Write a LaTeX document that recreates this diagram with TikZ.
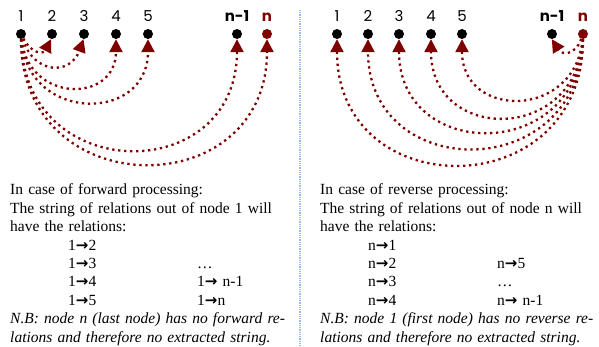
\documentclass[tikz,border=0pt]{standalone}
\usepackage{fontspec}
\setmainfont{Liberation Serif}
\newfontfamily\labelfont{Poppins}
\newfontfamily\symfont{DejaVu Sans}
\usetikzlibrary{arrows.meta}
\definecolor{mymaroon}{RGB}{128,0,0}
\definecolor{mysky}{RGB}{155,188,230}
\newcommand{\rel}{{\symfont\bfseries\fontsize{15}{15}\selectfont →}}
\tikzset{
  vertex/.style={circle, fill=black, inner sep=0pt, minimum size=10pt},
  lastvertex/.style={vertex, fill=mymaroon},
  relarrow/.style={-{Triangle[length=13pt, width=13pt]}, color=mymaroon,
    line width=2.3pt, dash pattern=on 2.3pt off 3.7pt},
  divider/.style={color=mysky, line width=1.8pt, dash pattern=on 1pt off 0.8pt},
  textblock/.style={anchor=base west, inner sep=0pt, align=left,
    font=\fontsize{15.5}{18.4}\selectfont}
}

\begin{document}
\begin{tikzpicture}[x=1pt, y=-1pt,
  every label/.style={font=\labelfont\fontsize{15}{15}\selectfont, inner sep=0pt},
  label distance=7pt]
  \useasboundingbox (0,0) rectangle (599,347);

  % forward processing
  \node[vertex, label=above:1] (l1) at (21,34) {};
  \node[vertex, label=above:2] (l2) at (52,34) {};
  \node[vertex, label=above:3] (l3) at (84,34) {};
  \node[vertex, label=above:4] (l4) at (116,34) {};
  \node[vertex, label=above:5] (l5) at (148,34) {};
  \node[vertex, label={above:\bfseries n-1}] (lm) at (237,34) {};
  \node[lastvertex, label={[text=mymaroon]above:\bfseries n}] (ln) at (267,34) {};
  \foreach \t/\o/\i/\l in {l2.-100/-62/-117/1.6, l3.-95/-72/-110/1.6,
      l4/-84/-90/1.75, l5/-86/-90/1.7, lm/-89/-90/1.75, ln/-90/-90/1.73}
    \draw[relarrow] (l1) to[out=\o, in=\i, looseness=\l] (\t);

  % reverse processing
  \node[vertex, label=above:1] (r1) at (337,34) {};
  \node[vertex, label=above:2] (r2) at (368,34) {};
  \node[vertex, label=above:3] (r3) at (399,34) {};
  \node[vertex, label=above:4] (r4) at (431,34) {};
  \node[vertex, label=above:5] (r5) at (462,34) {};
  \node[vertex, label={above:\bfseries n-1}] (rm) at (552,34) {};
  \node[lastvertex, label={[text=mymaroon]above:\bfseries n}] (rn) at (583,34) {};
  \foreach \t/\o/\i/\l in {rm.-92/-110/-58/1.6, r5/-95/-90/1.71,
      r4/-93/-90/1.76, r3/-92/-90/1.72, r2/-91/-90/1.73, r1/-90/-90/1.74}
    \draw[relarrow] (rn) to[out=\o, in=\i, looseness=\l] (\t);

  \coordinate (divtop) at (300,10);
  \coordinate (divbot) at (300,345);
  \draw[divider] (divtop) -- (divbot);

  \node[textblock, text width=280pt] (fwdtext) at (10,195) {%
    In case of forward processing:\\
    \makebox[280pt][s]{The string of relations out of node 1 will}\\
    have the relations:\\
    \hspace*{58pt}\makebox[129pt][l]{1\rel2}\\
    \hspace*{58pt}\makebox[129pt][l]{1\rel3}\dots\\
    \hspace*{58pt}\makebox[129pt][l]{1\rel4}1\rel\ n-1\\
    \hspace*{58pt}\makebox[129pt][l]{1\rel5}1\rel n\\
    \makebox[280pt][s]{\itshape N.B: node n (last node) has no forward re-}\\
    \textit{lations and therefore no extracted string.}};

  \node[textblock, text width=270pt] (revtext) at (320,195) {%
    In case of reverse processing:\\
    \makebox[270pt][s]{The string of relations out of node n will}\\
    have the relations:\\
    \hspace*{48pt}\makebox[129pt][l]{n\rel1}\\
    \hspace*{48pt}\makebox[129pt][l]{n\rel2}n\rel5\\
    \hspace*{48pt}\makebox[129pt][l]{n\rel3}\dots\\
    \hspace*{48pt}\makebox[129pt][l]{n\rel4}n\rel\ n-1\\
    \makebox[270pt][s]{\itshape N.B: node 1 (first node) has no reverse re-}\\
    \textit{lations and therefore no extracted string.}};
\end{tikzpicture}
\end{document}
